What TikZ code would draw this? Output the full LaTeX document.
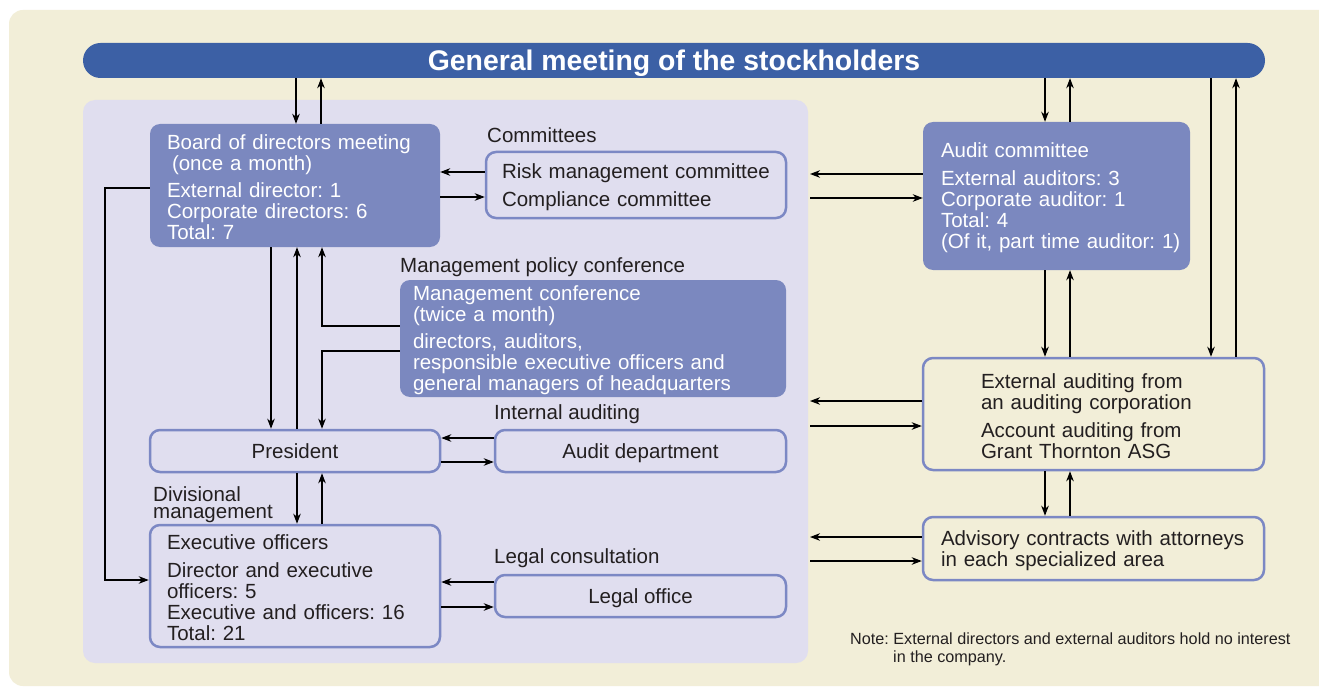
\documentclass[tikz,border=0pt]{standalone}
\usepackage{fontspec}
\setmainfont{Liberation Sans}
\usetikzlibrary{arrows.meta,calc}
\definecolor{beige}{RGB}{242,238,216}
\definecolor{gmblue}{RGB}{60,96,165}
\definecolor{panelc}{RGB}{224,222,239}
\definecolor{boxdark}{RGB}{123,136,191}
\definecolor{boxline}{RGB}{124,136,196}
\definecolor{txt}{RGB}{35,31,32}
\newcommand{\toprule}{\rule{0pt}{19pt}}
\frenchspacing
\begin{document}
\frenchspacing
\begin{tikzpicture}[x=1pt,y=-1pt,
  font=\fontsize{20.5}{21}\selectfont\frenchspacing,
  darkbox/.style={fill=boxdark, rounded corners=10pt, text=white, align=left, inner ysep=0pt},
  lightbox/.style={fill=panelc, draw=boxline, line width=2.5pt, rounded corners=10pt, text=txt, inner ysep=0pt},
  onebox/.style={lightbox, text height=15pt, text depth=0pt},
  lbl/.style={anchor=base west, text=txt, inner sep=0pt},
  arr/.style={-{Stealth[length=10pt,width=7.5pt,inset=3pt]}, line width=1.1pt, black}
]
\fill[white] (0,0) rectangle (1319,687);
\useasboundingbox (0,0) rectangle (1319,687);
\fill[beige, rounded corners=14pt] (9,10) rectangle (1345,686);

% panel
\node[fill=panelc, rounded corners=12pt, minimum width=725pt, minimum height=563pt, inner sep=0pt] (panel) at (445.5,381.5) {};

% general meeting bar
\node[fill=gmblue, rounded corners=17.5pt, minimum width=1182pt, minimum height=35pt, inner sep=0pt,
      text height=20pt, text depth=0pt,
      text=white, font=\fontsize{28.4}{30}\selectfont\bfseries] (gm) at (674,60.5) {General meeting of the stockholders};

% boxes
\node[darkbox, minimum width=290pt, minimum height=123pt, text width=256pt, inner xsep=17pt] (board) at (295,185.5)
 {\toprule Board of directors meeting\\\hspace*{5pt}(once a month)\\[6pt]External director: 1\\Corporate directors: 6\\Total: 7};
\node[lightbox, align=left, minimum width=300pt, minimum height=66pt, text width=268pt, inner xsep=16pt] (comm) at (636,185)
 {\toprule Risk management committee\\[7pt]Compliance committee};
\node[darkbox, minimum width=386pt, minimum height=117pt, text width=360pt, inner xsep=13pt] (mgmt) at (593,338.5)
 {\toprule Management conference\\(twice a month)\\[6pt]directors, auditors,\\responsible executive officers and\\general managers of headquarters};
\node[onebox, minimum width=290pt, minimum height=42pt] (pres) at (295,451) {President};
\node[onebox, minimum width=291pt, minimum height=42pt] (adept) at (640.5,451) {Audit department};
\node[lightbox, align=left, minimum width=290pt, minimum height=122pt, text width=256pt, inner xsep=17pt] (exec) at (295,586)
 {\toprule Executive officers\\[7pt]Director and executive\\officers: 5\\Executive and officers: 16\\Total: 21};
\node[onebox, minimum width=291pt, minimum height=42pt] (legal) at (640.5,596) {Legal office};
\node[darkbox, minimum width=267pt, minimum height=148pt, text width=231pt, inner xsep=18pt] (auditcom) at (1056.5,196)
 {\toprule Audit committee\\[7pt]External auditors: 3\\Corporate auditor: 1\\Total: 4\\\mbox{(Of it, part time auditor: 1)}};
\node[lightbox, fill=beige, align=left, minimum width=341pt, minimum height=112pt, text width=225pt, inner xsep=58pt] (ext) at (1093.5,414)
 {\toprule External auditing from\\an auditing corporation\\[7pt]Account auditing from\\Grant Thornton ASG};
\node[lightbox, fill=beige, align=left, minimum width=341pt, minimum height=63pt, text width=305pt, inner xsep=18pt] (adv) at (1093.5,548.5)
 {\toprule \mbox{Advisory contracts with attorneys}\\in each specialized area};

% labels
\node[lbl] (lcomm) at (487,143) {Committees};
\node[lbl] (lmpc) at (400,272) {Management policy conference};
\node[lbl] (lint) at (494,419) {Internal auditing};
\node[lbl, align=left, font=\fontsize{20.5}{17}\selectfont] (ldiv) at (153,518) {Divisional\\management};
\node[lbl] (llegal) at (494,563) {Legal consultation};
\node[lbl, align=left, font=\fontsize{16.2}{18}\selectfont] (note) at (850,662)
 {Note: External directors and external auditors hold no interest\\\hspace*{43pt}in the company.};

% coordinates
\coordinate (xb1) at (296,0); \coordinate (xb2) at (321,0);
\coordinate (xl1) at (271,0); \coordinate (xl2) at (297,0); \coordinate (xl3) at (322,0);
\coordinate (xleft) at (105,0);
\coordinate (xa) at (1045,0); \coordinate (xb) at (1070,0);
\coordinate (xc) at (1211,0); \coordinate (xd) at (1236,0);
\coordinate (yc1) at (0,172); \coordinate (yc2) at (0,197);
\coordinate (ym1) at (0,326); \coordinate (ym2) at (0,351);
\coordinate (ylft) at (0,188); \coordinate (yex) at (0,580);
\coordinate (ya1) at (0,438); \coordinate (ya2) at (0,462);
\coordinate (yL1) at (0,582); \coordinate (yL2) at (0,607);
\coordinate (pe1) at (810,174); \coordinate (pe2) at (810,198);
\coordinate (pe3) at (810,401); \coordinate (pe4) at (810,426);
\coordinate (pe5) at (810,537); \coordinate (pe6) at (810,561);

% left connectors
\draw[arr] (gm.south -| xb1) -- (board.north -| xb1);
\draw[arr] (board.north -| xb2) -- (gm.south -| xb2);
\draw[arr] (comm.west |- yc1) -- (board.east |- yc1);
\draw[arr] (board.east |- yc2) -- (comm.west |- yc2);
\draw[arr] (board.south -| xl1) -- (pres.north -| xl1);
\draw[arr] (pres.north -| xl2) -- (board.south -| xl2);
\draw[arr] (mgmt.west |- ym1) -| (board.south -| xl3);
\draw[arr] (mgmt.west |- ym2) -| (pres.north -| xl3);
\draw[arr] (board.west |- ylft) -- (xleft |- ylft) |- (exec.west |- yex);
\draw[arr] (adept.west |- ya1) -- (pres.east |- ya1);
\draw[arr] (pres.east |- ya2) -- (adept.west |- ya2);
\draw[arr] (pres.south -| xl2) -- (exec.north -| xl2);
\draw[arr] (exec.north -| xl3) -- (pres.south -| xl3);
\draw[arr] (legal.west |- yL1) -- (exec.east |- yL1);
\draw[arr] (exec.east |- yL2) -- (legal.west |- yL2);

% right connectors
\draw[arr] (gm.south -| xa) -- (auditcom.north -| xa);
\draw[arr] (auditcom.north -| xb) -- (gm.south -| xb);
\draw[arr] (auditcom.south -| xa) -- (ext.north -| xa);
\draw[arr] (ext.north -| xb) -- (auditcom.south -| xb);
\draw[arr] (gm.south -| xc) -- (ext.north -| xc);
\draw[arr] (ext.north -| xd) -- (gm.south -| xd);
\draw[arr] (ext.south -| xa) -- (adv.north -| xa);
\draw[arr] (adv.north -| xb) -- (ext.south -| xb);
\draw[arr] (auditcom.west |- pe1) -- (pe1);
\draw[arr] (pe2) -- (auditcom.west |- pe2);
\draw[arr] (ext.west |- pe3) -- (pe3);
\draw[arr] (pe4) -- (ext.west |- pe4);
\draw[arr] (adv.west |- pe5) -- (pe5);
\draw[arr] (pe6) -- (adv.west |- pe6);
\end{tikzpicture}
\end{document}
